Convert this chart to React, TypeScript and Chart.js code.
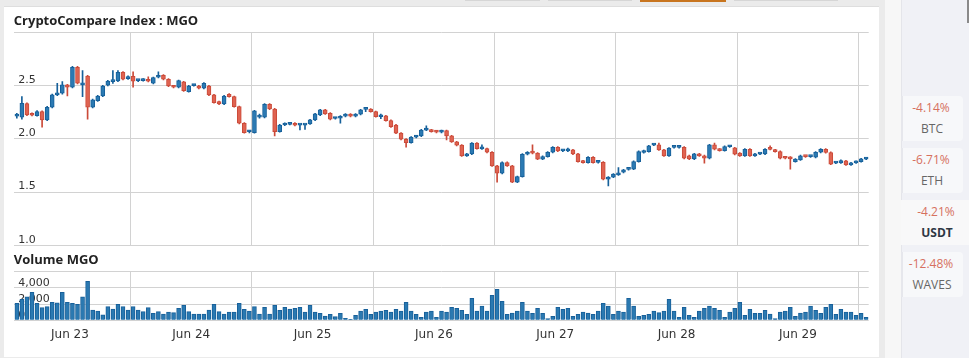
import React, { useEffect, useRef } from 'react';
import { Chart, registerables } from 'chart.js';

Chart.register(...registerables);

// ---- data (hourly candles, first candle Jun 22 13:00) ----
const dayLabels = ['Jun 23', 'Jun 24', 'Jun 25', 'Jun 26', 'Jun 27', 'Jun 28', 'Jun 29'];
// hour offsets (from the first candle) of each day's midnight and noon
const dayLabelHours = [11, 35, 59, 83, 107, 131, 155];
const dayGridHours = [23, 47, 71, 95, 119, 143, 167];
const totalHours = 169;

const opens = [
  2.213, 2.203, 2.330, 2.234, 2.218, 2.255, 2.177, 2.296, 2.412, 2.428,
  2.506, 2.484, 2.672, 2.506, 2.590, 2.296, 2.358, 2.402, 2.503, 2.537,
  2.543, 2.625, 2.565, 2.587, 2.546, 2.546, 2.553, 2.522, 2.578, 2.597,
  2.559, 2.496, 2.484, 2.534, 2.443, 2.500, 2.496, 2.475, 2.496, 2.412,
  2.349, 2.327, 2.418, 2.396, 2.302, 2.146, 2.066, 2.058, 2.203, 2.203,
  2.324, 2.280, 2.068, 2.130, 2.135, 2.146, 2.128, 2.128, 2.140, 2.177,
  2.224, 2.271, 2.240, 2.191, 2.193, 2.212, 2.231, 2.212, 2.231, 2.276,
  2.278, 2.255, 2.207, 2.215, 2.171, 2.130, 2.053, 1.996, 1.964, 2.015,
  2.027, 2.081, 2.083, 2.074, 2.062, 2.077, 2.027, 1.971, 1.940, 1.840,
  1.858, 1.959, 1.906, 1.908, 1.874, 1.746, 1.677, 1.777, 1.746, 1.593,
  1.645, 1.855, 1.874, 1.865, 1.809, 1.833, 1.874, 1.921, 1.887, 1.887,
  1.896, 1.858, 1.793, 1.777, 1.827, 1.778, 1.780, 1.621, 1.640, 1.661,
  1.686, 1.713, 1.715, 1.786, 1.871, 1.880, 1.941, 1.943, 1.896, 1.840,
  1.919, 1.919, 1.921, 1.840, 1.811, 1.858, 1.840, 1.818, 1.943, 1.902,
  1.889, 1.925, 1.915, 1.865, 1.840, 1.902, 1.840, 1.856, 1.858, 1.903,
  1.896, 1.880, 1.819, 1.827, 1.786, 1.802, 1.834, 1.832, 1.827, 1.874,
  1.902, 1.871, 1.772, 1.774, 1.793, 1.755, 1.774, 1.786, 1.809,
];
const highs = [
  2.238, 2.396, 2.338, 2.245, 2.265, 2.262, 2.305, 2.420, 2.521, 2.537,
  2.512, 2.680, 2.680, 2.640, 2.596, 2.372, 2.408, 2.502, 2.550, 2.640,
  2.640, 2.632, 2.592, 2.630, 2.556, 2.566, 2.581, 2.580, 2.630, 2.603,
  2.565, 2.502, 2.552, 2.540, 2.502, 2.512, 2.502, 2.528, 2.502, 2.418,
  2.355, 2.408, 2.424, 2.402, 2.308, 2.152, 2.080, 2.268, 2.231, 2.330,
  2.330, 2.286, 2.136, 2.149, 2.146, 2.152, 2.136, 2.136, 2.183, 2.240,
  2.277, 2.277, 2.246, 2.202, 2.218, 2.237, 2.237, 2.237, 2.277, 2.296,
  2.284, 2.261, 2.231, 2.221, 2.177, 2.136, 2.059, 2.002, 2.021, 2.033,
  2.089, 2.121, 2.089, 2.080, 2.083, 2.083, 2.033, 1.977, 1.946, 1.864,
  1.965, 1.965, 1.943, 1.914, 1.880, 1.752, 1.783, 1.783, 1.752, 1.651,
  1.861, 1.880, 1.943, 1.871, 1.839, 1.880, 1.927, 1.927, 1.898, 1.912,
  1.902, 1.864, 1.799, 1.833, 1.833, 1.790, 1.786, 1.646, 1.674, 1.730,
  1.714, 1.725, 1.792, 1.886, 1.895, 1.939, 1.952, 1.959, 1.902, 1.918,
  1.930, 1.930, 1.927, 1.846, 1.864, 1.864, 1.846, 1.949, 1.959, 1.908,
  1.933, 1.936, 1.921, 1.871, 1.908, 1.908, 1.864, 1.867, 1.908, 1.933,
  1.902, 1.886, 1.826, 1.833, 1.815, 1.846, 1.842, 1.842, 1.880, 1.908,
  1.908, 1.877, 1.784, 1.802, 1.799, 1.780, 1.792, 1.817, 1.824,
];
const lows = [
  2.193, 2.184, 2.218, 2.215, 2.212, 2.109, 2.170, 2.290, 2.405, 2.420,
  2.402, 2.478, 2.515, 2.396, 2.184, 2.290, 2.352, 2.396, 2.497, 2.521,
  2.537, 2.553, 2.558, 2.484, 2.536, 2.540, 2.534, 2.516, 2.572, 2.553,
  2.490, 2.478, 2.478, 2.446, 2.437, 2.494, 2.469, 2.469, 2.406, 2.334,
  2.321, 2.321, 2.390, 2.296, 2.140, 2.052, 2.055, 2.052, 2.193, 2.197,
  2.274, 2.027, 2.062, 2.124, 2.130, 2.121, 2.083, 2.089, 2.134, 2.171,
  2.218, 2.228, 2.178, 2.184, 2.146, 2.206, 2.206, 2.206, 2.225, 2.255,
  2.249, 2.202, 2.189, 2.165, 2.108, 2.047, 1.990, 1.921, 1.958, 2.009,
  2.021, 2.077, 2.062, 2.056, 2.056, 1.990, 1.965, 1.934, 1.834, 1.834,
  1.852, 1.902, 1.900, 1.868, 1.740, 1.593, 1.671, 1.740, 1.587, 1.587,
  1.639, 1.849, 1.859, 1.803, 1.803, 1.827, 1.868, 1.880, 1.880, 1.880,
  1.852, 1.780, 1.771, 1.771, 1.771, 1.772, 1.615, 1.558, 1.634, 1.655,
  1.680, 1.706, 1.709, 1.780, 1.865, 1.874, 1.935, 1.890, 1.834, 1.834,
  1.913, 1.913, 1.812, 1.805, 1.805, 1.834, 1.771, 1.812, 1.896, 1.883,
  1.883, 1.919, 1.849, 1.834, 1.834, 1.834, 1.834, 1.850, 1.852, 1.895,
  1.874, 1.812, 1.811, 1.715, 1.780, 1.796, 1.826, 1.826, 1.821, 1.868,
  1.865, 1.756, 1.766, 1.768, 1.749, 1.749, 1.768, 1.780, 1.803,
];
const closes = [
  2.218, 2.334, 2.224, 2.221, 2.255, 2.177, 2.296, 2.412, 2.428, 2.506,
  2.484, 2.672, 2.522, 2.515, 2.296, 2.365, 2.402, 2.496, 2.543, 2.546,
  2.625, 2.559, 2.584, 2.540, 2.548, 2.559, 2.540, 2.574, 2.597, 2.559,
  2.496, 2.484, 2.546, 2.452, 2.496, 2.503, 2.475, 2.522, 2.412, 2.340,
  2.327, 2.402, 2.396, 2.302, 2.146, 2.058, 2.069, 2.262, 2.215, 2.324,
  2.280, 2.068, 2.130, 2.135, 2.140, 2.127, 2.132, 2.132, 2.177, 2.234,
  2.271, 2.234, 2.184, 2.194, 2.212, 2.231, 2.212, 2.231, 2.271, 2.279,
  2.255, 2.208, 2.210, 2.171, 2.114, 2.053, 1.996, 1.964, 2.015, 2.027,
  2.083, 2.084, 2.068, 2.062, 2.077, 2.027, 1.971, 1.940, 1.840, 1.858,
  1.959, 1.908, 1.909, 1.874, 1.746, 1.677, 1.777, 1.746, 1.593, 1.645,
  1.855, 1.874, 1.865, 1.809, 1.833, 1.874, 1.921, 1.886, 1.890, 1.890,
  1.858, 1.786, 1.777, 1.827, 1.777, 1.781, 1.621, 1.640, 1.668, 1.677,
  1.708, 1.716, 1.786, 1.880, 1.889, 1.933, 1.944, 1.896, 1.840, 1.912,
  1.922, 1.922, 1.818, 1.811, 1.858, 1.840, 1.818, 1.943, 1.902, 1.889,
  1.927, 1.928, 1.855, 1.840, 1.902, 1.840, 1.858, 1.859, 1.902, 1.900,
  1.880, 1.818, 1.817, 1.811, 1.809, 1.840, 1.832, 1.835, 1.874, 1.902,
  1.871, 1.762, 1.775, 1.796, 1.755, 1.774, 1.786, 1.811, 1.818,
];
const volumes = [
  2090, 2580, 2910, 3440, 2090, 1560, 1680, 2210, 2170, 3440,
  2210, 2090, 1970, 2910, 4800, 1270, 1150, 660, 1680, 1390,
  1970, 1680, 1270, 1680, 1270, 1070, 1560, 860, 1070, 780,
  1030, 940, 1480, 1850, 1070, 780, 780, 780, 1270, 1970,
  1070, 780, 1030, 1030, 2090, 1350, 1150, 1680, 780, 1600,
  780, 1850, 1230, 1600, 1390, 1480, 1600, 1030, 1850, 1030,
  860, 530, 740, 450, 860, 250, 120, 620, 1150, 1350,
  740, 1030, 1150, 1230, 1030, 1350, 1150, 2210, 1150, 740,
  370, 1030, 1150, 370, 1150, 1030, 1600, 1480, 1230, 740,
  2710, 1150, 1760, 1150, 3080, 3810, 2340, 740, 900, 1150,
  2210, 1150, 860, 1480, 860, 200, 490, 1600, 1350, 1480,
  490, 740, 1030, 900, 740, 1150, 2090, 1760, 740, 1150,
  1030, 2710, 1760, 490, 620, 740, 1150, 940, 1150, 2580,
  1150, 370, 1600, 620, 370, 1150, 1480, 1760, 1480, 1230,
  370, 1030, 1480, 2210, 620, 1350, 860, 860, 1230, 780,
  200, 1030, 1150, 1600, 490, 900, 1030, 1760, 1230, 860,
  1600, 1970, 740, 1350, 1030, 1030, 620, 860, 370,
];

const priceMin = 1.0;
const priceMax = 3.0;
const priceStep = 0.5;
const volMin = 0;
const volMax = 6000;
const volStep = 2000;

const sidePairs = [
  { pct: '-4.14%', sym: 'BTC' },
  { pct: '-6.71%', sym: 'ETH' },
  { pct: '-4.21%', sym: 'USDT' },
  { pct: '-12.48%', sym: 'WAVES' },
];

// ---- styles ----
const UP_FILL = '#2b7ab3';
const UP_LINE = '#16609a';
const DN_FILL = '#df6351';
const DN_LINE = '#cb4a39';
const VOL_FILL = '#2a79b1';
const VOL_LINE = '#18609a';
const GRID = '#d2d2d2';
const TICK = '#333333';

const gridSet = new Set(dayGridHours);

const zeroPad = (s: any) => {
  s.paddingTop = 0;
  s.paddingBottom = 0;
  s.paddingLeft = 0;
  s.paddingRight = 0;
};

export default function App() {
  const priceRef = useRef<HTMLCanvasElement | null>(null);
  const volRef = useRef<HTMLCanvasElement | null>(null);

  useEffect(() => {
    const xs = opens.map((_, i) => i + 0.5);
    const up = opens.map((o, i) => closes[i] >= o);

    const priceChart = new Chart(priceRef.current!, {
      type: 'bar',
      data: {
        datasets: [
          {
            label: 'body',
            data: xs.map((x, i) => ({ x, y: [opens[i], closes[i]] })) as any,
            backgroundColor: up.map((u) => (u ? UP_FILL : DN_FILL)),
            borderColor: up.map((u) => (u ? UP_LINE : DN_LINE)),
            borderWidth: 1,
            borderSkipped: false,
            barThickness: 4,
            minBarLength: 2,
            grouped: false,
            order: 0,
          } as any,
          {
            label: 'wick',
            data: xs.map((x, i) => ({ x, y: [lows[i], highs[i]] })) as any,
            backgroundColor: up.map((u) => (u ? UP_LINE : DN_LINE)),
            borderWidth: 0,
            barThickness: 1,
            grouped: false,
            order: 1,
          } as any,
        ],
      },
      options: {
        animation: false,
        responsive: false,
        events: [],
        layout: { padding: { left: 14.3, right: 11.3, top: 32.3, bottom: 4.7 } },
        plugins: { legend: { display: false }, tooltip: { enabled: false } },
        scales: {
          x: {
            type: 'linear',
            min: 0,
            max: totalHours,
            offset: false,
            border: { display: false },
            grid: { color: GRID, drawTicks: false, offset: false },
            ticks: { display: false, autoSkip: false },
            afterBuildTicks: (s: any) => {
              s.ticks = dayGridHours.map((v) => ({ value: v }));
            },
            afterFit: (s: any) => {
              s.height = 0;
              zeroPad(s);
            },
          },
          y: {
            min: priceMin,
            max: priceMax,
            border: { display: false },
            grid: { color: GRID, drawTicks: false },
            ticks: {
              stepSize: priceStep,
              mirror: true,
              padding: 4,
              labelOffset: -5.5,
              color: TICK,
              font: { family: 'DejaVu Sans', size: 11 },
              callback: (v: any) => (Number(v) >= priceMax ? '' : Number(v).toFixed(1)),
            },
            afterFit: (s: any) => {
              s.width = 0;
              zeroPad(s);
            },
          },
        },
      } as any,
    });

    const volChart = new Chart(volRef.current!, {
      type: 'bar',
      data: {
        datasets: [
          {
            label: 'Volume MGO',
            data: xs.map((x, i) => ({ x, y: volumes[i] })) as any,
            backgroundColor: VOL_FILL,
            borderColor: VOL_LINE,
            borderWidth: 1,
            barThickness: 4,
          } as any,
        ],
      },
      options: {
        animation: false,
        responsive: false,
        events: [],
        layout: { padding: { left: 14.3, right: 11.3, top: 21.7, bottom: 0 } },
        plugins: { legend: { display: false }, tooltip: { enabled: false } },
        scales: {
          x: {
            type: 'linear',
            min: 0,
            max: totalHours,
            offset: false,
            border: { display: false },
            grid: {
              drawTicks: false,
              offset: false,
              color: (ctx: any) => (ctx.tick && gridSet.has(ctx.tick.value) ? GRID : 'rgba(0,0,0,0)'),
            },
            ticks: {
              autoSkip: false,
              maxRotation: 0,
              minRotation: 0,
              padding: 7.5,
              color: TICK,
              font: { family: 'DejaVu Sans', size: 12 },
              callback: (v: any) => {
                const k = dayLabelHours.indexOf(Number(v));
                return k >= 0 ? dayLabels[k] : '';
              },
            },
            afterBuildTicks: (s: any) => {
              const all = [...dayLabelHours, ...dayGridHours].sort((a, b) => a - b);
              s.ticks = all.map((v) => ({ value: v }));
            },
            afterFit: (s: any) => {
              s.height = 35.7;
              zeroPad(s);
            },
          },
          y: {
            min: volMin,
            max: volMax,
            border: { display: false },
            grid: { color: GRID, drawTicks: false },
            ticks: {
              stepSize: volStep,
              mirror: true,
              padding: 4,
              labelOffset: -5,
              color: TICK,
              font: { family: 'DejaVu Sans', size: 11 },
              callback: (v: any) => (Number(v) >= volMax ? '' : Number(v).toLocaleString('en-US')),
            },
            afterFit: (s: any) => {
              s.width = 0;
              zeroPad(s);
            },
          },
        },
      } as any,
    });

    return () => {
      priceChart.destroy();
      volChart.destroy();
    };
  }, []);

  const abs = (o: React.CSSProperties): React.CSSProperties => ({ position: 'absolute', ...o });
  const cardTops = [96, 148, 200, 252];

  return (
    <div style={abs({ left: 0, top: 0, width: 969, height: 358, background: '#ebebeb', overflow: 'hidden' })}>
      {/* tab bottoms at the top */}
      <div style={abs({ left: 465, top: 0, width: 75, height: 1, background: '#d6d6d6' })} />
      <div style={abs({ left: 548, top: 0, width: 84, height: 1, background: '#d6d6d6' })} />
      <div style={abs({ left: 640, top: 0, width: 86, height: 1.5, background: '#c8751f' })} />
      <div style={abs({ left: 734, top: 0, width: 104, height: 1, background: '#d6d6d6' })} />

      {/* main white card */}
      <div style={abs({ left: 4, top: 6, width: 875, height: 350.5, background: '#ffffff', borderTop: '1px solid #dedede', boxSizing: 'border-box' })} />

      {/* right side */}
      <div style={abs({ left: 885, top: 0, width: 16, height: 358, background: '#f7f7f7' })} />
      <div style={abs({ left: 901, top: 0, width: 68, height: 358, background: '#f0f1f6', borderLeft: '1px solid #e4e5ea', boxSizing: 'border-box' })} />
      <div style={abs({ left: 967, top: 0, width: 2, height: 23, background: '#8a8a8a' })} />

      {sidePairs.map((p, k) => {
        const top = cardTops[k];
        const selected = p.sym === 'USDT';
        return (
          <div key={p.sym}>
            <div
              style={abs(
                selected
                  ? { left: 901, top, width: 68, height: 45, background: '#f8f8f9' }
                  : {
                      left: 901,
                      top,
                      width: 62,
                      height: 45,
                      background: '#f7f8fa',
                      borderLeft: '2px solid #e6e7ec',
                      borderRadius: '0 4px 4px 0',
                      boxSizing: 'border-box',
                    }
              )}
            />
            <div
              style={abs({
                left: selected ? 905 : 900,
                top: top + 4.5,
                width: 62,
                textAlign: 'center',
                fontFamily: '"Open Sans", sans-serif',
                fontSize: 12,
                lineHeight: '14px',
                color: '#d6705e',
                whiteSpace: 'nowrap',
              })}
            >
              {p.pct}
            </div>
            <div
              style={abs({
                left: selected ? 906 : 901,
                top: top + 26,
                width: 62,
                textAlign: 'center',
                fontFamily: '"Open Sans", sans-serif',
                fontSize: 12,
                fontWeight: selected ? 700 : 400,
                lineHeight: '14px',
                color: selected ? '#2e3744' : '#666666',
                whiteSpace: 'nowrap',
              })}
            >
              {p.sym}
            </div>
          </div>
        );
      })}

      <canvas ref={priceRef} width={880} height={250} style={abs({ left: 0, top: 0, width: 880, height: 250 })} />
      <canvas ref={volRef} width={880} height={106} style={abs({ left: 0, top: 250, width: 880, height: 106 })} />

      <div
        style={abs({
          left: 13.8,
          top: 12.3,
          fontFamily: '"Open Sans", sans-serif',
          fontWeight: 700,
          fontSize: 13,
          lineHeight: '16px',
          color: '#222222',
          whiteSpace: 'nowrap',
        })}
      >
        CryptoCompare Index : MGO
      </div>
      <div
        style={abs({
          left: 13.8,
          top: 250.5,
          fontFamily: '"Open Sans", sans-serif',
          fontWeight: 700,
          fontSize: 13,
          lineHeight: '16px',
          color: '#222222',
          whiteSpace: 'nowrap',
        })}
      >
        Volume MGO
      </div>
    </div>
  );
}
